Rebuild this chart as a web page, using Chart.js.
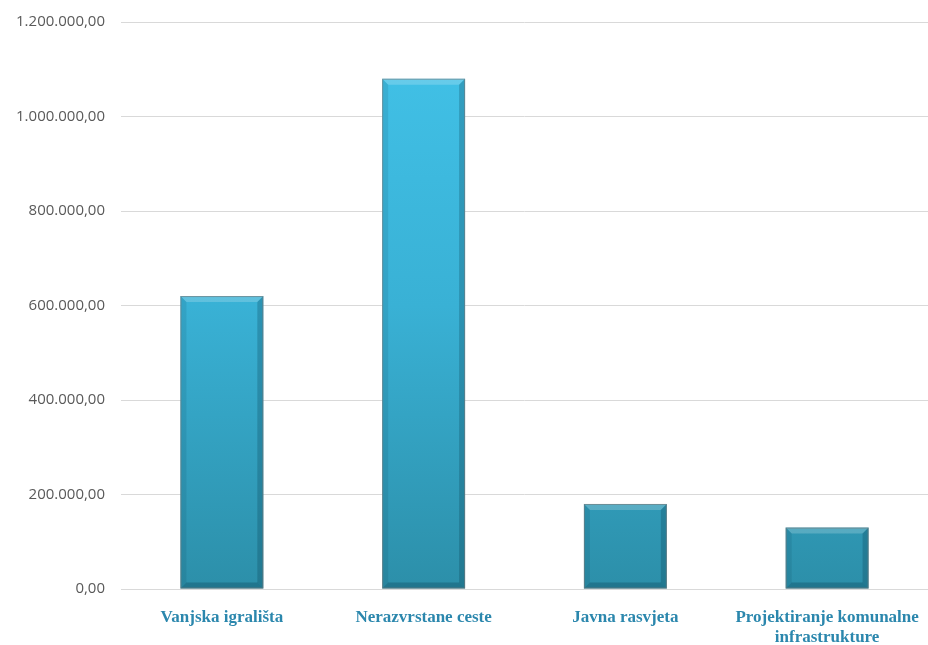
<!DOCTYPE html>
<html>
<head>
<meta charset="utf-8">
<script src="https://cdn.jsdelivr.net/npm/chart.js@4/dist/chart.umd.min.js"></script>
<style>
html,body{margin:0;padding:0;background:#fff;}
#wrap{width:928px;height:645px;position:relative;}
</style>
</head>
<body>
<div id="wrap"><canvas id="c"></canvas></div>
<script>
const categories = ["Vanjska igrališta", ["Nerazvrstane ceste"], "Javna rasvjeta", ["Projektiranje komunalne", "infrastrukture"]];
const values = [620000, 1080000, 180000, 130000];
const yMax = 1200000;
const yStep = 200000;

function fmt(v){
  const s = Math.round(v).toString().replace(/\B(?=(\d{3})+(?!\d))/g, ".");
  return s + ",00";
}

const bevel = {
  id: 'bevel',
  afterDatasetsDraw(chart){
    const ctx = chart.ctx;
    chart.getDatasetMeta(0).data.forEach(bar => {
      const l = bar.x - bar.width/2, r = bar.x + bar.width/2, t = bar.y, b = bar.base;
      const e = 6;
      ctx.save();
      ctx.fillStyle = 'rgba(255,255,255,0.2)';
      ctx.beginPath(); ctx.moveTo(l,t); ctx.lineTo(r,t); ctx.lineTo(r-e,t+e); ctx.lineTo(l+e,t+e); ctx.closePath(); ctx.fill();
      ctx.fillStyle = 'rgba(0,40,60,0.22)';
      ctx.beginPath(); ctx.moveTo(r,t); ctx.lineTo(r,b); ctx.lineTo(r-e,b-e); ctx.lineTo(r-e,t+e); ctx.closePath(); ctx.fill();
      ctx.fillStyle = 'rgba(0,40,60,0.25)';
      ctx.beginPath(); ctx.moveTo(l,b); ctx.lineTo(r,b); ctx.lineTo(r-e,b-e); ctx.lineTo(l+e,b-e); ctx.closePath(); ctx.fill();
      ctx.fillStyle = 'rgba(0,40,60,0.1)';
      ctx.beginPath(); ctx.moveTo(l,t); ctx.lineTo(l,b); ctx.lineTo(l+e,b-e); ctx.lineTo(l+e,t+e); ctx.closePath(); ctx.fill();
      ctx.strokeStyle = 'rgba(120,120,120,0.6)';
      ctx.lineWidth = 1;
      ctx.strokeRect(l+0.5, t+0.5, bar.width-1, b-t-1);
      ctx.restore();
    });
  }
};

new Chart(document.getElementById('c'), {
  type: 'bar',
  data: {
    labels: categories,
    datasets: [{
      data: values,
      backgroundColor(ctx){
        const ca = ctx.chart.chartArea;
        if (!ca) return '#3ab6dc';
        const g = ctx.chart.ctx.createLinearGradient(0, ca.top, 0, ca.bottom);
        g.addColorStop(0, '#42c3e9');
        g.addColorStop(0.5, '#39b1d5');
        g.addColorStop(1, '#2c8fa9');
        return g;
      },
      borderWidth: 0,
      categoryPercentage: 1,
      barPercentage: 0.411
    }]
  },
  options: {
    responsive: true,
    maintainAspectRatio: false,
    animation: false,
    layout: { padding: { top: 22, right: 0, bottom: 0, left: 0 } },
    plugins: { legend: { display: false }, tooltip: { enabled: false } },
    scales: {
      x: {
        afterFit(scale){ scale.height = 56; scale.paddingLeft = 0; scale.paddingRight = 0; },
        grid: { display: false, drawTicks: false },
        border: { display: true, color: '#d9d9d9', width: 1 },
        ticks: {
          padding: 18,
          maxRotation: 0,
          autoSkip: false,
          color: '#2b87ad',
          font: { family: '"Liberation Serif", "DejaVu Serif", serif', size: 17, weight: 'bold', lineHeight: 1.2 }
        }
      },
      y: {
        min: 0, max: yMax,
        afterFit(scale){ scale.width = 121; scale.paddingTop = 0; scale.paddingBottom = 0; },
        grid: { color: '#d9d9d9', drawTicks: false, lineWidth: 1 },
        border: { display: false },
        ticks: {
          stepSize: yStep,
          padding: 16,
          color: '#595959',
          font: { family: '"Open Sans", "Noto Sans", sans-serif', size: 15 },
          callback: v => fmt(v)
        }
      }
    }
  },
  plugins: [bevel]
});
</script>
</body>
</html>
